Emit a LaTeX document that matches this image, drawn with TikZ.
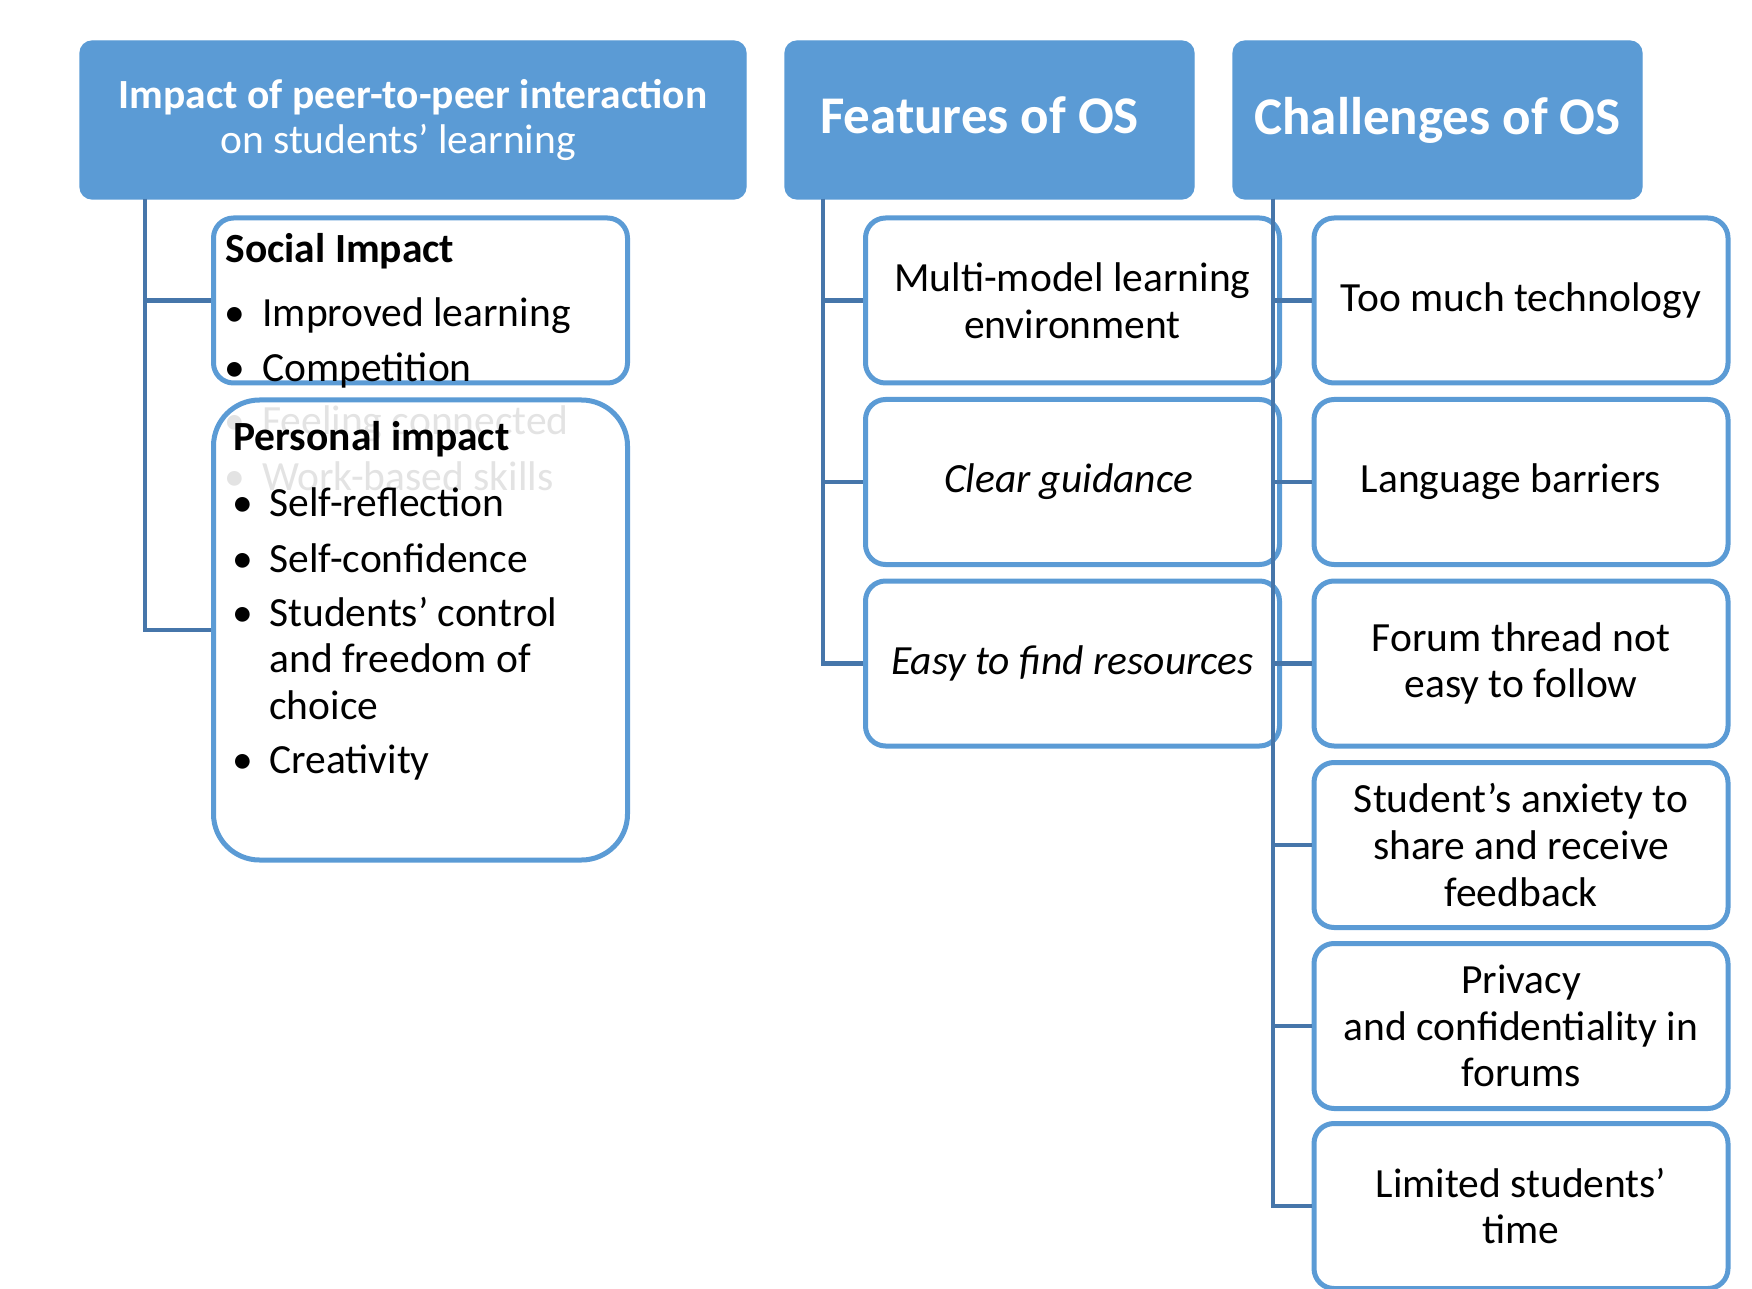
\documentclass[tikz,border=0pt]{standalone}
\usepackage{fontspec}
\setmainfont{Carlito}
\definecolor{hdrblue}{HTML}{5B9BD5}
\definecolor{edgeblue}{HTML}{5B9BD5}
\definecolor{linkblue}{HTML}{4676AA}
\definecolor{ghostgray}{HTML}{E3E3E3}
\newcommand\bodysize{\fontsize{20.75}{23.3}\selectfont}
\newcommand\headsize{\fontsize{26.5}{30}\selectfont}
\begin{document}
\begin{tikzpicture}[x=0.5pt,y=-0.5pt,
  header/.style={fill=hdrblue, draw=hdrblue, line width=0.6pt, rounded corners=6pt,
    text=white, align=center, minimum width=#1, minimum height=79pt, inner sep=0pt},
  itembox/.style={draw=edgeblue, line width=2.5pt, fill=white, rounded corners=10pt,
    minimum width=207pt, minimum height=82.5pt, align=center, inner sep=0pt, font=\bodysize},
  link/.style={draw=linkblue, line width=2.2pt},
  txt/.style={anchor=base west, inner sep=0pt, font=\bodysize},
  bul/.style={anchor=base, inner sep=0pt, font=\bodysize},
  ghost/.style={text=ghostgray}
]
\useasboundingbox (0,0) rectangle (1752,1289);

% headers
\node[header=333pt, font=\bodysize] (h1) at (413,120)
  {\textbf{Impact of peer-to-peer interaction}\\[-0.8pt]on students’ learning\hspace*{15pt}};
\node[header=204.5pt, font=\headsize\bfseries] (h2) at (989.5,120) {Features of OS\vphantom{g}\hspace*{10pt}};
\node[header=204.5pt, font=\headsize\bfseries] (h3) at (1437.5,120) {Challenges of OS};

% left column boxes
\node[itembox] (social) at (420.5,300.5) {};
\node[itembox, minimum height=230pt, rounded corners=23pt] (personal) at (420.5,630) {};

% features column
\node[itembox] (f1) at (1072.5,300.5) {Multi-model learning\\environment};
\node[itembox, font=\bodysize\itshape] (f2) at (1072.5,482) {Clear guidance\hspace*{4pt}};
\node[itembox, font=\bodysize\itshape] (f3) at (1072.5,663.5) {Easy to find resources};

% challenges column
\node[itembox] (c1) at (1521,300.5) {Too much technology};
\node[itembox] (c2) at (1521,482) {Language barriers\hspace*{10pt}};
\node[itembox] (c3) at (1521,663.5) {Forum thread not\\easy to follow};
\node[itembox] (c4) at (1521,845) {Student’s anxiety to\\share and receive\\feedback};
\node[itembox] (c5) at (1521,1026) {Privacy\\and confidentiality in\\forums};
\node[itembox] (c6) at (1521,1206) {Limited students’\\time};

% social impact content
\node[txt, font=\bodysize\bfseries] (st) at (225,263) {Social Impact};
\node[bul] (sb1) at (235,327) {•};
\node[txt] (s1) at (262,327) {Improved learning};
\node[bul] (sb2) at (235,382) {•};
\node[txt] (s2) at (262,382) {Competition};
\node[bul, ghost] (gb1) at (235,435) {•};
\node[txt, ghost] (g1) at (262,435) {Feeling connected};
\node[bul, ghost] (gb2) at (235,490) {•};
\node[txt, ghost] (g2) at (262,490) {Work-based skills};

% personal impact content
\node[txt, font=\bodysize\bfseries] (pt) at (233,451) {Personal impact};
\node[bul] (pb1) at (243,516) {•};
\node[txt] (p1) at (269,516) {Self-reflection};
\node[bul] (pb2) at (243,572) {•};
\node[txt] (p2) at (269,572) {Self-confidence};
\node[bul] (pb3) at (243,626) {•};
\node[txt] (p3a) at (269,626) {Students’ control};
\node[txt] (p3b) at (269,672) {and freedom of};
\node[txt] (p3c) at (269,719) {choice};
\node[bul] (pb4) at (243,773) {•};
\node[txt] (p4) at (269,773) {Creativity};

% connectors
\coordinate (t1) at (145,199);
\coordinate (t2) at (823,199);
\coordinate (t3) at (1273,199);
\draw[link] (t1) |- (social.west);
\draw[link] (t1) |- (personal.west);
\foreach \n in {f1,f2,f3} \draw[link] (t2) |- (\n.west);
\foreach \n in {c1,c2,c3,c4,c5,c6} \draw[link] (t3) |- (\n.west);
\end{tikzpicture}
\end{document}
